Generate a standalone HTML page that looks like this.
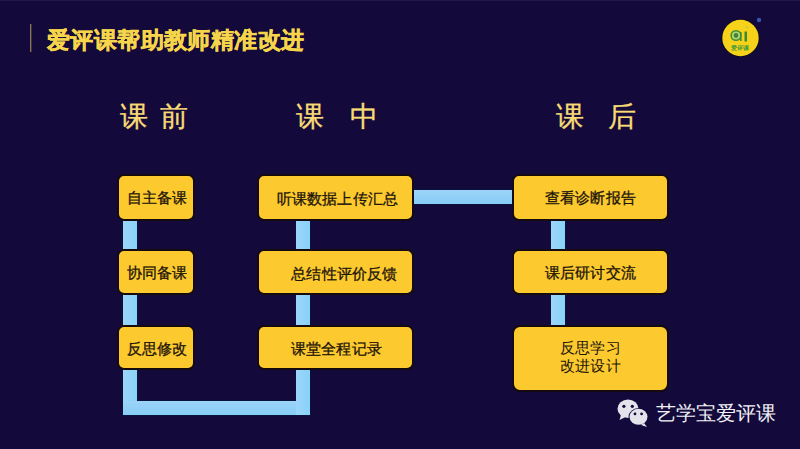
<!DOCTYPE html>
<html><head><meta charset="utf-8">
<style>
*{margin:0;padding:0;box-sizing:border-box}
html,body{width:800px;height:449px;overflow:hidden;background:#130a3b;font-family:"Liberation Sans",sans-serif}
.abs{position:absolute}
.vline{left:30px;top:24px;width:1px;height:28px;background:#8a7555;box-shadow:1px 0 0 #3a3040}
.title{left:47px;top:24px;font-size:23px;letter-spacing:0.4px;font-weight:bold;color:#f7d54a;white-space:nowrap;line-height:32px;-webkit-text-stroke:0.4px #f7d54a}
.head{top:98px;font-size:28px;color:#f8db74;white-space:pre;line-height:38px;-webkit-text-stroke:0.3px #f8db74}
.box{background:#fcca2e;border:2px solid #140a10;border-radius:7px;color:#1d140a;font-size:15px;letter-spacing:0.2px;font-weight:500;display:flex;align-items:center;justify-content:center;text-align:center;line-height:17px}
.box span{position:relative;-webkit-text-stroke:0.3px #1d140a}
.bar{background:#8ad3f8}
.foot{left:656px;top:399px;font-size:20px;font-weight:500;color:#f0f0f4;white-space:nowrap;line-height:28px}
</style></head>
<body>
<div class="abs" style="left:0;top:0;width:800px;height:1px;background:#231a4c"></div>
<div class="abs vline"></div>
<div class="abs title">爱评课帮助教师精准改进</div>

<div class="abs head" style="left:120px">课</div><div class="abs head" style="left:160px">前</div>
<div class="abs head" style="left:296px">课</div><div class="abs head" style="left:350px">中</div>
<div class="abs head" style="left:556px">课</div><div class="abs head" style="left:608px">后</div>

<!-- bars -->
<div class="abs" style="left:122px;top:218px;width:16px;height:198px;background:#08123a"></div>
<div class="abs" style="left:122px;top:400px;width:189px;height:16px;background:#08123a"></div>
<div class="abs" style="left:295px;top:218px;width:16px;height:198px;background:#08123a"></div>
<div class="abs" style="left:411px;top:189px;width:103px;height:16px;background:#08123a"></div>
<div class="abs" style="left:550px;top:218px;width:16px;height:110px;background:#08123a"></div>
<div class="abs bar" style="left:123px;top:219px;width:14px;height:196px;background:linear-gradient(90deg,#9dd5fa,#88d2f8)"></div>
<div class="abs bar" style="left:123px;top:401px;width:187px;height:14px;background:linear-gradient(#9dd3f9,#86cef6)"></div>
<div class="abs bar" style="left:296px;top:219px;width:14px;height:196px;background:linear-gradient(90deg,#9dd5fa,#88d2f8)"></div>
<div class="abs bar" style="left:412px;top:190px;width:101px;height:14px;background:linear-gradient(#9dd3f9,#86cef6)"></div>
<div class="abs bar" style="left:551px;top:219px;width:14px;height:108px;background:linear-gradient(90deg,#9dd5fa,#88d2f8)"></div>

<!-- column 1 -->
<div class="abs box" style="left:117px;top:174px;width:78px;height:47px"><span style="left:1px">自主备课</span></div>
<div class="abs box" style="left:117px;top:249px;width:78px;height:46px"><span style="left:1px">协同备课</span></div>
<div class="abs box" style="left:117px;top:325px;width:78px;height:45px"><span style="left:1px;top:1px">反思修改</span></div>
<!-- column 2 -->
<div class="abs box" style="left:257px;top:174px;width:157px;height:47px"><span style="left:2px;top:1px">听课数据上传汇总</span></div>
<div class="abs box" style="left:257px;top:249px;width:157px;height:46px"><span style="left:9px;top:1px">总结性评价反馈</span></div>
<div class="abs box" style="left:257px;top:325px;width:157px;height:45px"><span style="left:1px;top:1px">课堂全程记录</span></div>
<!-- column 3 -->
<div class="abs box" style="left:512px;top:174px;width:157px;height:47px"><span style="left:0px;top:0px">查看诊断报告</span></div>
<div class="abs box" style="left:512px;top:249px;width:157px;height:46px"><span style="left:0px;top:0px">课后研讨交流</span></div>
<div class="abs box" style="left:512px;top:325px;width:157px;height:67px;border-radius:8px;font-weight:400;line-height:18px"><span style="left:0px;top:-2px;-webkit-text-stroke:0">反思学习<br>改进设计</span></div>

<!-- logo -->
<svg class="abs" style="left:710px;top:10px" width="60" height="56" viewBox="0 0 60 56">
  <circle cx="30.5" cy="28" r="19.2" fill="#0e0a22"/>
  <circle cx="30.5" cy="28" r="18.2" fill="#f7d21a"/>
  <circle cx="26" cy="25.5" r="4.6" fill="none" stroke="#3d8a35" stroke-width="2"/>
  <circle cx="26" cy="25.5" r="3.4" fill="none" stroke="#a8dc78" stroke-width="1.4"/>
  <circle cx="26" cy="25.5" r="2.4" fill="#3f7f52"/>
  <rect x="30" y="22" width="1.6" height="9" fill="#3d8a35"/>
  <rect x="34.5" y="21.5" width="2.5" height="10" fill="#3d8a35"/>
  <path d="M35 17.5 l2.5 -1.5 l0.8 2.2 z" fill="#b8c840"/>
  <text x="40" y="49.5" font-size="5.9" fill="#3f9a3a" text-anchor="middle" font-family="Liberation Sans,sans-serif" font-weight="bold" transform="translate(-10 -10)">爱评课</text>
  <circle cx="49" cy="10" r="2.2" fill="#3a55b0"/>
</svg>

<!-- wechat icon -->
<svg class="abs" style="left:614px;top:396px" width="38" height="34" viewBox="0 0 38 34">
  <ellipse cx="14" cy="12.8" rx="10.5" ry="9.2" fill="#e4e3ec"/>
  <path d="M7 19 l-1.5 5 l6 -3 z" fill="#e4e3ec"/>
  <ellipse cx="24.5" cy="20.8" rx="10" ry="8.7" fill="#130a3b"/>
  <ellipse cx="24.5" cy="20.8" rx="9" ry="8" fill="#e4e3ec"/>
  <path d="M30 27 l3 4 l-6 -2 z" fill="#e4e3ec"/>
  <circle cx="9.9" cy="10.3" r="1.6" fill="#130a3b"/>
  <circle cx="18.3" cy="10.3" r="1.6" fill="#130a3b"/>
  <circle cx="21" cy="17.9" r="1.4" fill="#130a3b"/>
  <circle cx="27.6" cy="17.9" r="1.4" fill="#130a3b"/>
</svg>
<div class="abs foot">艺学宝爱评课</div>
</body></html>
